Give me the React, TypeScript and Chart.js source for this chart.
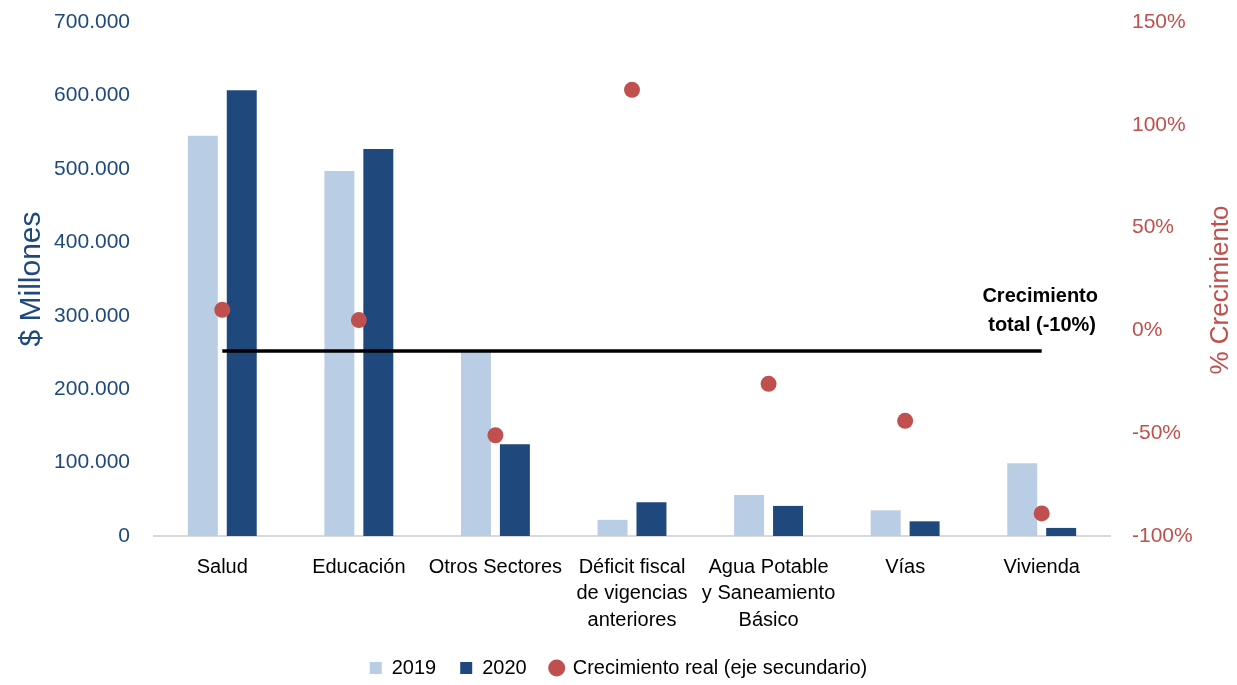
import React, { useEffect, useRef } from 'react';
import { Chart, registerables } from 'chart.js';

Chart.register(...registerables);

const categories = [
  ['Salud'],
  ['Educación'],
  ['Otros Sectores'],
  ['Déficit fiscal', 'de vigencias', 'anteriores'],
  ['Agua Potable', 'y Saneamiento', 'Básico'],
  ['Vías'],
  ['Vivienda'],
];
const values2019 = [545000, 497000, 252000, 22000, 56000, 35000, 99000];
const values2020 = [607000, 527000, 125000, 46000, 41000, 20000, 11000];
const realGrowth = [10, 5, -51, 117, -26, -44, -89];
const totalGrowth = -10;
const seriesLabels = ['2019', '2020', 'Crecimiento real (eje secundario)'];
const leftTitle = '$ Millones';
const rightTitle = '% Crecimiento';
const annotationLines = ['Crecimiento', 'total (-10%)'];

const FONT = '"Liberation Sans", Arial, sans-serif';
const BLUE = '#1F497D';
const LIGHT = '#B9CDE5';
const RED = '#C0504D';

function fmtThousands(v: number): string {
  return String(Math.round(v)).replace(/\B(?=(\d{3})+(?!\d))/g, '.');
}

export default function App() {
  const ref = useRef<HTMLCanvasElement>(null);
  useEffect(() => {
    if (!ref.current) return;
    const extraText = {
      id: 'extraText',
      afterDraw(chart: any) {
        const ctx = chart.ctx;
        const area = chart.chartArea;
        const y1 = chart.scales.y1;
        ctx.save();
        ctx.fillStyle = RED;
        ctx.font = `26px ${FONT}`;
        ctx.textAlign = 'center';
        ctx.textBaseline = 'middle';
        ctx.translate(chart.width - 16, (area.top + area.bottom) / 2 + 11);
        ctx.rotate(-Math.PI / 2);
        ctx.fillText(rightTitle, 0, 0);
        ctx.restore();

        ctx.save();
        ctx.fillStyle = '#000';
        ctx.font = `bold 20px ${FONT}`;
        ctx.textAlign = 'right';
        ctx.textBaseline = 'middle';
        const yLine = y1.getPixelForValue(totalGrowth);
        ctx.fillText(annotationLines[0], area.right - 12, yLine - 54);
        ctx.fillText(annotationLines[1], area.right - 14, yLine - 25);
        ctx.restore();
      },
    };

    const chart = new Chart(ref.current, {
      data: {
        labels: categories,
        datasets: [
          {
            type: 'line',
            label: seriesLabels[2],
            data: realGrowth,
            yAxisID: 'y1',
            showLine: false,
            pointRadius: 8,
            pointHoverRadius: 8,
            pointBackgroundColor: RED,
            pointBorderColor: RED,
            pointBorderWidth: 0,
            order: 0,
          },
          {
            type: 'line',
            label: 'Crecimiento total',
            data: categories.map(() => totalGrowth),
            yAxisID: 'y1',
            borderColor: '#000',
            borderWidth: 3.5,
            pointRadius: 0,
            order: 1,
          },
          {
            type: 'bar',
            label: seriesLabels[0],
            data: values2019,
            yAxisID: 'y',
            backgroundColor: LIGHT,
            categoryPercentage: 0.57,
            barPercentage: 0.77,
            order: 2,
          },
          {
            type: 'bar',
            label: seriesLabels[1],
            data: values2020,
            yAxisID: 'y',
            backgroundColor: BLUE,
            categoryPercentage: 0.57,
            barPercentage: 0.77,
            order: 2,
          },
        ],
      } as any,
      options: {
        responsive: true,
        maintainAspectRatio: false,
        animation: false,
        layout: { padding: { top: 22, left: 0, right: 0, bottom: -3 } },
        plugins: {
          tooltip: { enabled: false },
          legend: {
            position: 'bottom',
            labels: {
              usePointStyle: true,
              boxWidth: 12,
              boxHeight: 12,
              padding: 24,
              color: '#000',
              font: { family: FONT, size: 20 },
              generateLabels: () => [
                { text: seriesLabels[0], fillStyle: LIGHT, strokeStyle: LIGHT, lineWidth: 0, pointStyle: 'rect', hidden: false, datasetIndex: 2 },
                { text: seriesLabels[1], fillStyle: BLUE, strokeStyle: BLUE, lineWidth: 0, pointStyle: 'rect', hidden: false, datasetIndex: 3 },
                { text: seriesLabels[2], fillStyle: RED, strokeStyle: RED, lineWidth: 0, pointStyle: 'circle', hidden: false, datasetIndex: 0 },
              ] as any,
            },
          },
        },
        scales: {
          x: {
            grid: { display: false, drawTicks: false },
            border: { display: true, color: '#D9D9D9', width: 2 },
            ticks: {
              color: '#000',
              padding: 18,
              maxRotation: 0,
              autoSkip: false,
              font: { family: FONT, size: 20, lineHeight: 1.32 },
            },
            afterFit: (s: any) => { s.height = 98; },
          },
          y: {
            position: 'left',
            min: 0,
            max: 700000,
            grid: { display: false, drawTicks: false },
            border: { display: false },
            ticks: {
              stepSize: 100000,
              color: BLUE,
              padding: 24,
              font: { family: FONT, size: 21 },
              callback: (v: any) => fmtThousands(Number(v)),
            },
            title: {
              display: true,
              text: leftTitle,
              color: BLUE,
              font: { family: FONT, size: 30, lineHeight: 1 },
              padding: { top: 17, bottom: 0 },
            },
            afterFit: (s: any) => { s.width = 154; s.paddingTop = 0; s.paddingBottom = 0; },
          },
          y1: {
            position: 'right',
            min: -100,
            max: 150,
            grid: { display: false, drawTicks: false },
            border: { display: false },
            ticks: {
              stepSize: 50,
              color: RED,
              padding: 22,
              font: { family: FONT, size: 21 },
              callback: (v: any) => `${v}%`,
            },
            afterFit: (s: any) => { s.width = 127; s.paddingTop = 0; s.paddingBottom = 0; },
          },
        },
      } as any,
      plugins: [extraText],
    });
    return () => chart.destroy();
  }, []);

  return (
    <div style={{ position: 'fixed', left: 0, top: 0, width: 1237, height: 685, background: '#fff' }}>
      <canvas ref={ref} />
    </div>
  );
}
